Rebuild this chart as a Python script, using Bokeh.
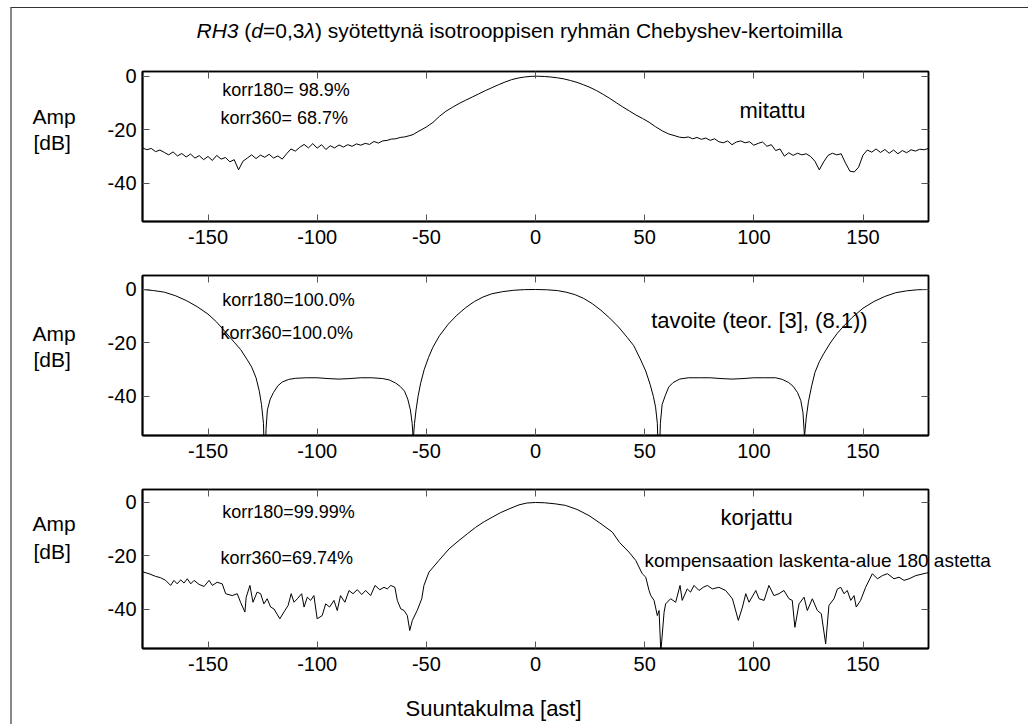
from bokeh.plotting import figure
from bokeh.models import Label, LinearAxis, FixedTicker, Range1d, ColumnDataSource
from bokeh.layouts import column, row
from bokeh.embed import file_html
from bokeh.resources import INLINE

FONT = "Liberation Sans"

# ---------------- data ----------------
x_ticks = [-150, -100, -50, 0, 50, 100, 150]
y_ticks = [-40, -20, 0]

angles_measured = [
    -180, -178, -176, -174, -172, -170, -168, -166, -164, -162,
    -160, -158, -156, -154, -152, -150, -148, -146, -144, -142,
    -140, -138, -136, -134, -132, -130, -128, -126, -124, -122,
    -120, -118, -116, -114, -112, -110, -108, -106, -104, -102,
    -100, -98, -96, -94, -92, -90, -88, -86, -84, -82,
    -80, -78, -76, -74, -72, -70, -68, -66, -64, -62,
    -60, -58, -56, -54, -52,
    -50, -47, -44, -41, -38, -35, -32, -29, -26, -23, -20, -17, -14, -11, -8, -5, -2,
    1, 4, 7, 10, 13, 16, 19, 22, 25, 28, 31, 34, 37, 40, 43, 46, 49, 52, 55, 58, 61, 64,
    66, 68, 70, 72, 74, 76, 78, 80, 82, 84,
    86, 88, 90, 92, 94, 96, 98, 100, 102, 104,
    106, 108, 110, 112, 114, 116, 118, 120, 122, 124,
    126, 128, 130, 132, 134, 136, 138, 140, 142, 144,
    146, 148, 150, 152, 154, 156, 158, 160, 162, 164,
    166, 168, 170, 172, 174, 176, 178, 180]
amp_measured = [
    -26.8, -27.5, -27.0, -28.2, -27.6, -28.5, -29.4, -28.3, -29.8, -28.9,
    -30.2, -29.1, -30.6, -29.7, -31.2, -30.0, -31.5, -29.6, -31.0, -30.4,
    -32.0, -31.2, -35.0, -31.8, -30.6, -29.4, -30.8, -29.5, -30.3, -29.2,
    -30.6, -29.8, -31.0, -29.0, -27.2, -28.0, -26.6, -25.5, -26.8, -25.2,
    -26.9, -25.6, -27.4, -26.0, -26.8, -25.7, -26.5, -25.6, -26.2, -25.3,
    -25.8, -25.1, -25.5, -24.4, -25.0, -24.2, -24.0, -23.5, -23.4, -22.9,
    -22.7, -22.3, -21.8, -20.8, -19.9,
    -19.0, -17.3, -15.0, -13.1, -11.6, -10.2, -9.0, -7.8, -6.6, -5.4, -4.3, -3.2, -2.2, -1.3, -0.7, -0.3, -0.05,
    0.0, -0.1, -0.3, -0.6, -1.0, -1.6, -2.3, -3.2, -4.2, -5.4, -6.8, -8.3, -9.9, -11.5, -13.0, -14.5, -15.8, -17.2, -18.9, -20.4, -21.6, -22.3,
    -22.8, -23.0, -22.7, -23.4, -22.9, -23.6, -23.1, -24.0, -23.4, -24.5,
    -24.9, -24.2, -25.6, -24.6, -24.2, -24.9, -24.5, -25.8, -25.1, -24.6,
    -26.2, -25.6, -27.8, -27.2, -29.9, -28.6, -29.6, -28.8, -29.4, -29.0,
    -30.0, -31.8, -35.0, -32.0, -29.6, -28.8, -29.4, -29.0, -32.5, -35.5,
    -35.8, -34.0, -29.5, -27.6, -28.4, -27.2, -28.5, -27.4, -28.8, -27.6,
    -29.0, -27.8, -28.6, -27.5, -28.0, -27.3, -27.5, -27.0]

angles_target = [
    -180, -175, -170, -165, -160, -155, -150, -146, -142, -138,
    -135, -132, -130, -128, -126.5, -125.5, -124.6, -124, -123.4, -122.8,
    -121.5, -120, -118, -116, -113, -110, -105, -100, -95, -90,
    -85, -80, -75, -70, -67, -64, -62, -60, -58.5, -57.3,
    -56.5, -56, -55.4, -54.7, -53.8, -52.6, -51, -49, -47, -44,
    -40, -36, -32, -28, -24, -20, -15, -10, -5, 0,
    5, 10, 14, 18, 22, 26, 30, 34, 38, 42,
    45, 48, 50.5, 52.5, 54, 55, 55.8, 56.5, 57.2, 58,
    59.5, 61, 63, 66, 70, 75, 80, 85, 90, 95,
    100, 105, 110, 113, 116, 118, 120, 121.5, 122.5, 123.2,
    124, 125, 126.5, 128, 130, 132, 135, 138, 141, 145,
    150, 155, 160, 165, 170, 175, 180]
amp_target = [
    0.0, -0.4, -1.0, -2.3, -4.1, -6.4, -9.2, -12.2, -15.9, -19.7,
    -22.5, -26.3, -29.0, -33.0, -38.0, -43.0, -50.0, -68.0, -52.0, -45.0,
    -41.0, -38.5, -36.0, -34.6, -33.6, -33.2, -33.0, -33.0, -33.3, -33.5,
    -33.3, -33.0, -33.0, -33.3, -33.8, -35.0, -36.2, -38.0, -41.0, -45.0,
    -50.0, -56.0, -50.0, -45.0, -40.0, -35.0, -30.0, -25.4, -21.6, -17.3,
    -13.0, -9.6, -6.8, -4.5, -2.8, -1.6, -0.8, -0.3, -0.05, 0.0,
    -0.1, -0.4, -1.0, -1.9, -3.3, -5.3, -7.8, -10.7, -14.0, -17.9,
    -21.0, -26.0, -30.5, -35.5, -40.0, -44.0, -50.0, -68.0, -50.0, -43.0,
    -39.5, -36.5, -34.8, -33.5, -33.0, -33.0, -33.0, -33.3, -33.5, -33.3,
    -33.0, -33.0, -33.0, -33.6, -34.8, -36.2, -38.5, -41.5, -46.0, -55.0,
    -48.0, -42.0, -36.0, -31.0, -27.0, -24.0, -20.0, -16.6, -13.8, -10.5,
    -7.0, -4.5, -2.6, -1.2, -0.5, -0.1, 0.0]

angles_corrected = [
    -180, -177, -174, -171.7, -169.4, -167.1, -165.6, -164.1, -162.5, -161,
    -159.5, -157.9, -156.4, -154.1, -151.8, -149.5, -148, -145.8, -143.5, -141.9,
    -138.9, -136.6, -135.1, -133.1, -132.5, -130.8, -129.4, -127.5, -125.9, -124.4,
    -122.9, -121.3, -119.8, -117.1, -114.8, -113.3, -111.9, -110.6, -109.1, -107.1,
    -106, -104.5, -103, -101.5, -100, -97.7, -96.1, -94.3, -92.3, -90.8,
    -89.3, -87.3, -85.4, -83.6, -81.6, -79.6, -77.8, -75.5, -73.5, -71.3,
    -69.4, -67.9, -66.3, -64.4, -63.3, -61.7, -60.2, -58.7, -57.6, -56.4,
    -54.2, -52.1, -51.1, -48.8, -44.2, -39.6, -35, -31, -27.4, -23.5,
    -19.8, -16, -12.1, -7.6, -4, 0, 4, 9, 13.8, 19,
    24.5, 29.5, 35.2, 38.5, 42.8, 45.9, 48.9, 50.5, 52.0, 52.8,
    54.3, 55.8, 56.6, 57.4, 58.9, 59.6, 61.9, 64.2, 66.2, 67.2,
    69.5, 71, 72.6, 74.9, 76.8, 78.7, 81, 84, 87.1, 90.2,
    92.9, 94.8, 96.3, 97.8, 100.9, 102.4, 104.7, 106.9, 109.2, 111.5,
    113.8, 116.1, 117.6, 118.8, 120.7, 123, 124.5, 126.8, 129.1, 130.9,
    132.9, 134.4, 136.7, 138.3, 139.8, 141.3, 142.8, 144.4, 145.9, 146.9,
    148.9, 151.2, 154.3, 156.6, 158.9, 161.2, 164.2, 166.5, 168.8, 171.1,
    174.2, 178.8, 180]
amp_corrected = [
    -26.0, -26.7, -27.7, -28.2, -29.2, -31.1, -29.2, -30.5, -29.0, -30.2,
    -28.6, -30.5, -29.2, -30.7, -31.5, -29.2, -31.1, -29.9, -30.5, -34.2,
    -34.9, -34.2, -37.4, -41.1, -35.5, -31.1, -37.4, -33.6, -34.2, -38.0,
    -36.1, -39.2, -39.9, -43.6, -40.5, -38.6, -34.2, -37.4, -36.1, -34.2,
    -39.2, -35.5, -36.7, -34.9, -43.6, -42.4, -38.0, -39.2, -36.7, -40.5,
    -34.9, -37.4, -33.0, -34.2, -32.7, -34.5, -33.0, -34.9, -31.1, -32.7,
    -31.8, -32.4, -31.1, -31.8, -36.7, -39.9, -40.5, -42.4, -48.0, -44.2,
    -40.5, -36.1, -31.1, -26.1, -21.7, -17.4, -14.2, -11.6, -9.3, -7.2,
    -5.5, -3.8, -2.4, -0.9, -0.2, 0.0, -0.1, -0.5, -1.1, -2.6,
    -4.9, -7.7, -11.1, -15.0, -18.6, -21.7, -26.7, -28.0, -33.0, -34.9,
    -36.7, -42.4, -40.5, -56.0, -41.1, -38.0, -36.1, -37.4, -31.1, -36.7,
    -32.4, -33.6, -31.1, -33.0, -31.8, -31.1, -32.4, -31.8, -33.0, -36.1,
    -44.2, -39.2, -34.2, -37.4, -33.0, -36.1, -36.7, -31.1, -34.9, -34.2,
    -33.0, -36.1, -36.7, -46.8, -38.0, -35.5, -40.5, -36.1, -40.5, -41.7,
    -53.0, -38.6, -36.1, -32.4, -31.8, -34.2, -33.0, -36.7, -34.9, -39.2,
    -36.7, -31.8, -26.7, -28.6, -27.4, -26.7, -28.6, -28.0, -29.2, -28.6,
    -27.4, -26.5, -26.3]

panel_names = ["mitattu", "tavoite (teor. [3], (8.1))", "korjattu"]
korr180_texts = ["korr180= 98.9%", "korr180=100.0%", "korr180=99.99%"]
korr360_texts = ["korr360= 68.7%", "korr360=100.0%", "korr360=69.74%"]
title_parts = [("RH3", "italic"), (" (", "normal"), ("d", "italic"), ("=0,3", "normal"),
               ("\u03bb", "italic"), (") syötettynä isotrooppisen ryhmän Chebyshev-kertoimilla", "normal")]
y_label_lines = ["Amp", "[dB]"]
x_label_text = "Suuntakulma [ast]"
note_text = "kompensaation laskenta-alue 180 astetta"

# ---------------- layout geometry (page pixels) ----------------
CONTENT_X, CONTENT_Y = 12, 8          # inside the grey page frame
CONTENT_W = 1016
LEFT_W = 90                            # strip holding the "Amp [dB]" labels
FRAME_L, FRAME_R = 142, 928
TITLE_H, XLAB_H = 42, 34

# Arial / Liberation Sans advance widths (per 1000 em) used to chain text pieces
W = {'R': 722, 'H': 722, '3': 556, ' ': 278, '(': 333, 'd': 556, '=': 584, '0': 556, ',': 278,
     '\u03bb': 500, ')': 333, 'k': 500, 'o': 556, 'm': 833, 'p': 556, 'e': 556, 'n': 556, 's': 500,
     'a': 556, 't': 278, 'i': 222, 'l': 222, '-': 333, 'u': 556, '1': 556, '8': 556}


def text_width(txt, size):
    return sum(W.get(c, 520) for c in txt) * size / 1000.0


def blank(w, h, left, frame_bottom):
    """Axis-less strip for texts; frame_bottom = page y of its frame's bottom edge
    (inside a row, Bokeh aligns the strip's frame with the neighbouring panel)."""
    f = figure(width=w, height=h, x_range=Range1d(0, w), y_range=Range1d(0, h),
               x_axis_location=None, y_axis_location=None, min_border=0,
               output_backend="svg", toolbar_location=None, outline_line_color=None,
               background_fill_color="white", border_fill_color="white")
    f.xgrid.visible = False
    f.ygrid.visible = False

    def put(px, py, text, size, style="normal"):
        stripped = text.lstrip(" ")
        px = px + text_width(text[:len(text) - len(stripped)], size)
        f.add_layout(Label(x=px - left, y=frame_bottom - py, x_units="screen", y_units="screen",
                           text=stripped, text_font=FONT,
                           text_font_size=f"{size}px", text_font_style=style,
                           text_align="left", text_baseline="middle", text_color="black"))
    return f, put


def make_panel(row_top, row_h, frame_top, frame_h, ytop, ybot, xs, ys, right_border):
    fig_left = CONTENT_X + LEFT_W
    border_top = frame_top - row_top
    border_bottom = row_h - border_top - frame_h
    p = figure(frame_width=FRAME_R - FRAME_L, frame_height=frame_h,
               x_range=Range1d(-180, 180), y_range=Range1d(ybot, ytop),
               min_border_left=FRAME_L - fig_left, min_border_right=right_border,
               min_border_top=border_top, min_border_bottom=border_bottom,
               output_backend="svg", toolbar_location=None,
               background_fill_color="white", border_fill_color="white")
    p.xgrid.visible = False
    p.ygrid.visible = False
    p.outline_line_color = "black"
    p.outline_line_width = 1.5

    p.add_layout(LinearAxis(), "above")
    p.add_layout(LinearAxis(), "right")

    for ax in p.xaxis:
        ax.ticker = FixedTicker(ticks=x_ticks)
    for ax in p.yaxis:
        ax.ticker = FixedTicker(ticks=y_ticks)
    for ax in list(p.xaxis) + list(p.yaxis):
        ax.major_tick_in = 7
        ax.major_tick_out = 0
        ax.major_tick_line_color = "#555555"
        ax.major_tick_line_width = 1
        ax.minor_tick_line_color = None
        ax.axis_line_color = "black"
        ax.major_label_text_font = FONT
        ax.major_label_text_color = "black"
    p.below[0].axis_line_width = 2
    p.below[0].major_label_text_font_size = "20px"
    p.below[0].major_label_standoff = 8
    p.below[0].major_label_overrides = {t: str(t) for t in x_ticks}
    p.left[0].axis_line_width = 2
    p.left[0].major_label_text_font_size = "20px"
    p.left[0].major_label_standoff = 6
    p.left[0].major_label_overrides = {t: str(t) for t in y_ticks}
    for ax in (p.above[0], p.right[0]):
        ax.axis_line_width = 1.5
        ax.major_label_text_font_size = "1px"
        ax.major_label_standoff = 0
    p.above[0].major_label_overrides = {t: "" for t in x_ticks}
    p.right[0].major_label_overrides = {t: "" for t in y_ticks}

    src = ColumnDataSource(data=dict(angle=xs, amp=ys))
    p.line(x="angle", y="amp", source=src, line_color="black", line_width=1)

    frame_bottom = frame_top + frame_h

    def put(px, py, text, size, style="normal"):
        # screen units = offsets from the frame's bottom-left corner
        p.add_layout(Label(x=px - FRAME_L, y=frame_bottom - py, x_units="screen", y_units="screen",
                           text=text, text_font=FONT,
                           text_font_size=f"{size}px", text_font_style=style,
                           text_align="left", text_baseline="middle", text_color="black"))
    return p, put, frame_bottom


PANEL_FULL_RIGHT = CONTENT_W - LEFT_W - (FRAME_L - CONTENT_X - LEFT_W) - (FRAME_R - FRAME_L)
P3_RIGHT = 4

# ---- title strip ----
ft, put_t = blank(CONTENT_W, TITLE_H, CONTENT_X, CONTENT_Y + TITLE_H)
title_size = 21
tx = 196
for txt, style in title_parts:
    put_t(tx, 30, txt, title_size, style)
    tx += text_width(txt, title_size)

# ---- panel rows ----
R1, R2, R3, R4 = CONTENT_Y + TITLE_H, 263, 476, 690
p1, put1, fb1 = make_panel(R1, R2 - R1, 71, 150, 1.76, -54.32, angles_measured, amp_measured, PANEL_FULL_RIGHT)
p2, put2, fb2 = make_panel(R2, R3 - R2, 275, 160, 5.23, -54.58, angles_target, amp_target, PANEL_FULL_RIGHT)
p3, put3, fb3 = make_panel(R3, R4 - R3, 489, 159, 4.87, -54.74, angles_corrected, amp_corrected, P3_RIGHT)

l1, put_l1 = blank(LEFT_W, R2 - R1, CONTENT_X, fb1)
l2, put_l2 = blank(LEFT_W, R3 - R2, CONTENT_X, fb2)
l3, put_l3 = blank(LEFT_W, R4 - R3, CONTENT_X, fb3)
right3_left = FRAME_R + P3_RIGHT
r3, put_r3 = blank(CONTENT_X + CONTENT_W - right3_left, R4 - R3, right3_left, fb3)

# panel 1
put1(221.7, 89, korr180_texts[0], 18)
put1(220, 117, korr360_texts[0], 18)
put1(739, 110, panel_names[0], 22)
put_l1(32, 116, y_label_lines[0], 21)
put_l1(33, 142, y_label_lines[1], 21)

# panel 2
put2(221.7, 299, korr180_texts[1], 18)
put2(220, 332, korr360_texts[1], 18)
put2(650.7, 320, panel_names[1], 22)
put_l2(32, 333, y_label_lines[0], 21)
put_l2(33, 359, y_label_lines[1], 21)

# panel 3
put3(221.7, 511, korr180_texts[2], 18)
put3(220, 557, korr360_texts[2], 18)
put3(720, 517, panel_names[2], 22)
put_l3(32, 523, y_label_lines[0], 21)
put_l3(33, 551, y_label_lines[1], 21)
# the note runs across the right edge of the axes box: inner part + outer part
note_size = 19
words = note_text.split(" ")
inner = " ".join(words[:-1])
outer = words[-1]
put3(644, 560, inner, note_size)
put_r3(644 + text_width(inner + " ", note_size), 560, outer, note_size)

# ---- x label strip ----
fx, put_x = blank(CONTENT_W, XLAB_H, CONTENT_X, R4 + XLAB_H)
put_x(405, 708, x_label_text, 22)

layout = column(ft, row(l1, p1), row(l2, p2), row(l3, p3, r3), fx, spacing=0,
                styles={"margin-left": "10px", "margin-top": "7px",
                        "border-top": "1px solid #333333",
                        "border-left": "2px solid #888888"})

open("out.html", "w").write(file_html(layout, INLINE))
